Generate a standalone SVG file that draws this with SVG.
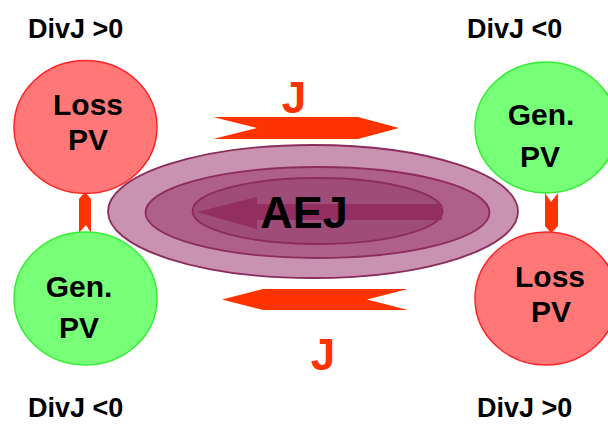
<svg xmlns="http://www.w3.org/2000/svg" width="608" height="424" viewBox="0 0 608 424">
<style>
.lbl{font-family:"Liberation Sans",Arial,sans-serif;font-weight:bold;font-size:27px;fill:#000}
.nt{font-family:"Liberation Sans",Arial,sans-serif;font-weight:bold;font-size:30px;fill:#000;text-anchor:middle}
.jt{font-family:"Liberation Sans",Arial,sans-serif;font-weight:bold;font-size:44px;fill:#ff3300;text-anchor:middle}
.loss{fill:#ff7777;stroke:#ff2222;stroke-width:1.5}
.gen{fill:#77ff77;stroke:#33ee33;stroke-width:1.5}
.arr{fill:#ff3300}
.ell{stroke:#8b2c5c;stroke-width:1.8}
</style>
<rect width="608" height="424" fill="#fff"/>
<g id="labels">
<text class="lbl" x="28" y="38">DivJ &gt;0</text>
<text class="lbl" x="467" y="38">DivJ &lt;0</text>
<text class="lbl" x="28" y="417">DivJ &lt;0</text>
<text class="lbl" x="477" y="417">DivJ &gt;0</text>
</g>
<g id="aej">
<ellipse class="ell" cx="313" cy="211.5" rx="205" ry="66.5" fill="#c892b0"/>
<ellipse class="ell" cx="317.5" cy="212.5" rx="172" ry="45.5" fill="#ae6089"/>
<ellipse class="ell" cx="317.5" cy="211" rx="125" ry="33" fill="#a04c78"/>
<polygon points="197,212 257,197 257,204 442,204 442,220 257,220 257,229" fill="#922e60"/>
<text x="304" y="228" font-family="Liberation Sans,Arial,sans-serif" font-weight="bold" font-size="45" text-anchor="middle" fill="#000">AEJ</text>
</g>
<g id="connectors">
<polygon class="arr" points="213,117 358,117 399,128 358,139 213,139 257,128"/>
<polygon class="arr" points="222,299.5 263,289 408,289 367,299.5 408,310 263,310"/>
<polygon class="arr" points="85,192 91,199 91,233 86,225 79,233 79,199"/>
<polygon class="arr" points="545,193 551,202 558,193 558,226 551,233 545,226"/>
<text class="jt" x="294" y="113">J</text>
<text class="jt" x="323" y="370">J</text>
</g>
<g id="loss-tl">
<ellipse class="loss" cx="85.5" cy="127" rx="71.5" ry="66.5"/>
<text class="nt" x="88" y="115">Loss</text>
<text class="nt" x="88" y="150">PV</text>
</g>
<g id="gen-bl">
<ellipse class="gen" cx="85.5" cy="298.5" rx="71.5" ry="66.5"/>
<text class="nt" x="79" y="297">Gen.</text>
<text class="nt" x="79" y="338">PV</text>
</g>
<g id="gen-tr">
<ellipse class="gen" cx="546" cy="127.5" rx="71" ry="65.5"/>
<text class="nt" x="541" y="125">Gen.</text>
<text class="nt" x="540" y="167">PV</text>
</g>
<g id="loss-br">
<ellipse class="loss" cx="546" cy="298.5" rx="71" ry="66.5"/>
<text class="nt" x="550" y="287">Loss</text>
<text class="nt" x="551" y="322">PV</text>
</g>
</svg>
